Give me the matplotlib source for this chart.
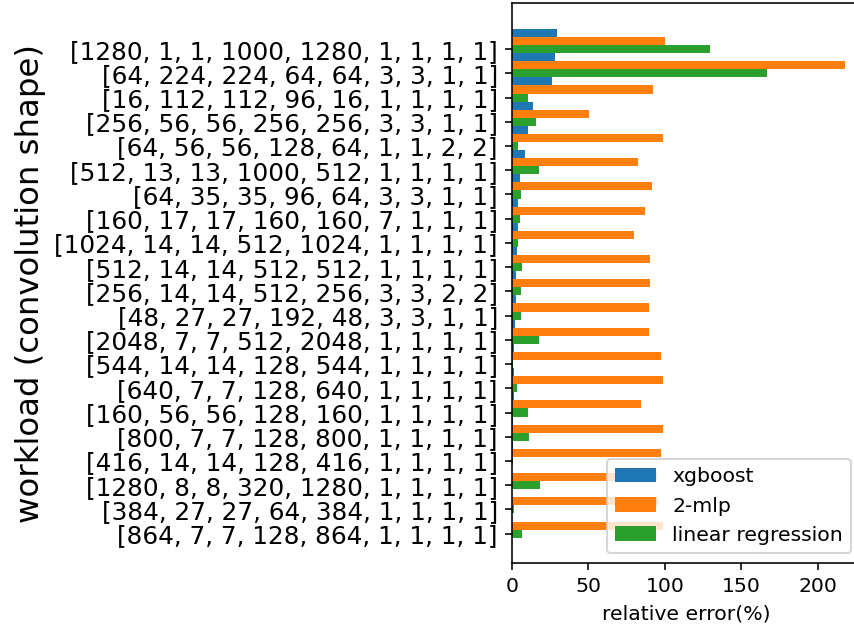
import numpy as np
import matplotlib
matplotlib.use("Agg")
import matplotlib.pyplot as plt

shapes = [
    "[1280, 1, 1, 1000, 1280, 1, 1, 1, 1]",
    "[64, 224, 224, 64, 64, 3, 3, 1, 1]",
    "[16, 112, 112, 96, 16, 1, 1, 1, 1]",
    "[256, 56, 56, 256, 256, 3, 3, 1, 1]",
    "[64, 56, 56, 128, 64, 1, 1, 2, 2]",
    "[512, 13, 13, 1000, 512, 1, 1, 1, 1]",
    "[64, 35, 35, 96, 64, 3, 3, 1, 1]",
    "[160, 17, 17, 160, 160, 7, 1, 1, 1]",
    "[1024, 14, 14, 512, 1024, 1, 1, 1, 1]",
    "[512, 14, 14, 512, 512, 1, 1, 1, 1]",
    "[256, 14, 14, 512, 256, 3, 3, 2, 2]",
    "[48, 27, 27, 192, 48, 3, 3, 1, 1]",
    "[2048, 7, 7, 512, 2048, 1, 1, 1, 1]",
    "[544, 14, 14, 128, 544, 1, 1, 1, 1]",
    "[640, 7, 7, 128, 640, 1, 1, 1, 1]",
    "[160, 56, 56, 128, 160, 1, 1, 1, 1]",
    "[800, 7, 7, 128, 800, 1, 1, 1, 1]",
    "[416, 14, 14, 128, 416, 1, 1, 1, 1]",
    "[1280, 8, 8, 320, 1280, 1, 1, 1, 1]",
    "[384, 27, 27, 64, 384, 1, 1, 1, 1]",
    "[864, 7, 7, 128, 864, 1, 1, 1, 1]",
]

xgboost = [29.4, 28.1, 26.1, 13.7, 10.5, 8.5, 5.2, 3.9, 3.9, 3.3, 2.6,
           2.6, 2.0, 1.5, 1.0, 1.0, 0.8, 0.4, 0.3, 0.3, 0.3]
mlp2 = [100.0, 217.6, 92.2, 50.3, 98.7, 82.4, 91.5, 86.9, 79.7, 90.2, 90.2,
        89.5, 89.5, 97.4, 98.9, 84.5, 98.9, 97.6, 95.0, 95.6, 98.9]
linreg = [129.4, 166.7, 10.5, 15.7, 3.9, 17.6, 5.9, 5.2, 3.9, 6.5, 5.9,
          5.9, 17.6, 0.8, 3.5, 10.7, 11.3, 0.8, 18.5, 1.5, 6.7]

fig = plt.figure(figsize=(854 / 144, 632 / 144), dpi=144)
ax = fig.add_axes([0.5995, 0.109, 0.409, 0.8855])

y = np.arange(len(shapes))
h = 1 / 3
ax.barh(y - 2 * h, xgboost, h, label="xgboost")
ax.barh(y - h, mlp2, h, label="2-mlp")
ax.barh(y, linreg, h, label="linear regression")

ax.set_yticks(y)
ax.set_yticklabels(shapes, fontsize=12.4)
ax.invert_yaxis()
ax.tick_params(axis="x", labelsize=10.2)
ax.set_xlabel("relative error(%)", fontsize=10.2)
ax.set_ylabel("workload (convolution shape)", fontsize=16.2)
ax.legend(loc="lower right", fontsize=10.2)

fig.savefig("out.png", dpi=144)
